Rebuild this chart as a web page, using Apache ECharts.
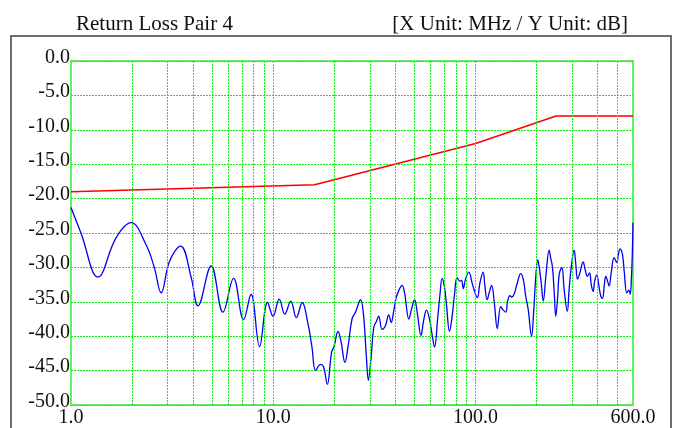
<!DOCTYPE html>
<html><head><meta charset="utf-8">
<script src="https://cdn.jsdelivr.net/npm/echarts@6/dist/echarts.min.js"></script>
<style>html,body{margin:0;padding:0;background:#fff}#c{width:679px;height:428px}</style>
</head><body><div id="c"></div>
<script>
const titleText = 'Return Loss Pair 4';
const unitText = '[X Unit: MHz / Y Unit: dB]';
const freq = [1.0, 1.12, 1.36, 1.67, 1.98, 2.35, 2.58, 2.79, 3.07, 3.48,
  3.93, 4.24, 4.93, 5.64, 6.36, 7.13, 7.76, 8.55, 9.37, 9.97,
  10.7, 11.4, 12.2, 13.0, 13.9, 14.8, 15.5, 16.2, 17.1, 17.7,
  18.5, 19.4, 20.0, 20.9, 21.6, 22.6, 23.5, 24.5, 25.5, 27.0,
  27.9, 28.9, 29.5, 30.4, 31.4, 32.4, 33.2, 34.5, 35.9, 37.2,
  38.3, 39.3, 40.5, 41.8, 43.3, 44.5, 46.8, 48.2, 49.9, 51.6,
  53.7, 55.3, 57.2, 59.2, 60.9, 62.7, 64.9, 66.7, 68.3, 70.2,
  71.8, 74.3, 76.5, 78.7, 81.0, 83.6, 85.3, 86.9, 89.2, 92.6,
  96.6, 102, 105, 109, 111, 114, 117, 120, 124, 128,
  133, 136, 141, 144, 148, 151, 155, 161, 167, 172,
  177, 182, 189, 194, 198, 203, 207, 211, 216, 223,
  231, 235, 240, 245, 249, 255, 259, 267, 274, 284,
  290, 297, 307, 313, 319, 327, 340, 348, 357, 366,
  373, 381, 388, 397, 406, 416, 424, 433, 440, 449,
  457, 469, 484, 499, 508, 518, 532, 543, 559, 572,
  581, 589, 596, 600];
const returnLoss = [-21.3, -25.0, -31.4, -25.7, -23.5, -26.7, -30.0, -33.7, -29.1, -26.9,
  -31.5, -35.6, -29.8, -36.5, -31.6, -37.6, -33.9, -41.5, -35.1, -37.1,
  -34.6, -36.8, -34.9, -37.3, -35.1, -38.0, -41.4, -45.0, -44.1, -44.4,
  -47.0, -42.4, -41.4, -39.3, -40.7, -43.8, -41.2, -37.5, -36.5, -34.7,
  -36.8, -43.3, -46.4, -43.3, -38.7, -37.8, -37.1, -39.0, -38.4, -36.9,
  -38.0, -36.5, -34.4, -33.3, -32.6, -33.6, -37.5, -36.1, -34.7, -36.8,
  -39.9, -37.8, -36.2, -37.5, -39.7, -41.6, -37.5, -33.9, -31.6, -32.9,
  -35.4, -39.3, -37.2, -33.9, -31.5, -32.0, -31.9, -33.1, -31.7, -30.7,
  -32.5, -34.4, -32.3, -30.7, -32.5, -34.7, -33.6, -32.6, -35.4, -38.9,
  -35.7, -36.1, -36.5, -34.9, -34.1, -34.3, -33.9, -32.2, -30.9, -31.7,
  -34.2, -36.1, -40.0, -36.1, -31.7, -28.9, -30.3, -32.2, -34.9, -31.0,
  -27.5, -28.6, -30.0, -33.9, -37.1, -33.9, -31.0, -30.0, -33.2, -36.4,
  -33.2, -30.0, -27.5, -29.6, -31.7, -30.9, -29.2, -30.3, -31.3, -30.8,
  -32.5, -33.5, -32.0, -31.1, -32.5, -34.2, -34.5, -32.5, -31.3, -32.0,
  -32.7, -30.6, -28.6, -29.3, -28.1, -27.3, -28.1, -30.6, -33.7, -33.3,
  -33.9, -31.7, -27.4, -23.5];
const limitFreq = [1, 16, 100, 250, 600];
const limitDb = [-19, -18, -12, -8, -8];
const gridFreqs = [2, 3, 4, 5, 6, 7, 8, 9, 10, 20, 30, 40, 50, 60, 70, 80, 90, 100, 200, 300, 400, 500];
const xLabels = [1, 10, 100, 600];

const FONT = '"Liberation Serif", "Times New Roman", serif';
const GRID_GREEN = '#11ee11';
const chart = echarts.init(document.getElementById('c'), null, {renderer: 'canvas'});
const zip = (a, b) => a.map((v, i) => [v, b[i]]);
chart.setOption({
  animation: false,
  backgroundColor: '#fff',
  title: [
    {text: titleText, left: 71, top: 9, textStyle: {fontFamily: FONT, fontSize: 21, fontWeight: 'normal', color: '#111'}},
    {text: unitText, right: 46, top: 9, textStyle: {fontFamily: FONT, fontSize: 21, fontWeight: 'normal', color: '#111'}}
  ],
  graphic: [{type: 'rect', shape: {x: 11, y: 36, width: 660, height: 430}, style: {fill: 'none', stroke: '#6e6e6e', lineWidth: 2}, silent: true}],
  grid: {left: 71, right: 46, top: 61, bottom: 22, show: true, borderColor: '#66ee66', borderWidth: 2, backgroundColor: 'transparent'},
  xAxis: {
    type: 'log', logBase: 10, min: 1, max: 600,
    axisLine: {show: false}, axisTick: {show: false}, splitLine: {show: false},
    axisLabel: {customValues: xLabels, formatter: v => Number(v).toFixed(1), fontFamily: FONT, fontSize: 20, color: '#111', margin: 3}
  },
  yAxis: {
    type: 'value', min: -50, max: 0, interval: 5,
    axisLine: {show: false}, axisTick: {show: false},
    splitLine: {show: true, lineStyle: {color: GRID_GREEN, type: [2, 1], width: 1}},
    axisLabel: {formatter: v => (Math.abs(v) < 1e-9 ? 0 : v).toFixed(1), fontFamily: FONT, fontSize: 20, color: '#111', margin: 1, verticalAlign: 'bottom', lineHeight: 7}
  },
  series: [
    {type: 'line', data: [], z: 1, silent: true,
      markLine: {silent: true, symbol: 'none', label: {show: false}, animation: false,
        lineStyle: {color: GRID_GREEN, type: [2, 1], width: 1},
        data: gridFreqs.map(f => ({xAxis: f}))}},
    {type: 'line', name: 'limit', data: zip(limitFreq, limitDb), showSymbol: false, z: 3,
      lineStyle: {color: '#ff0000', width: 1.5}},
    {type: 'line', name: 'rl', data: zip(freq, returnLoss), showSymbol: false, smooth: 0.4, z: 4,
      lineStyle: {color: '#0000ee', width: 1.3}}
  ]
});
</script></body></html>
